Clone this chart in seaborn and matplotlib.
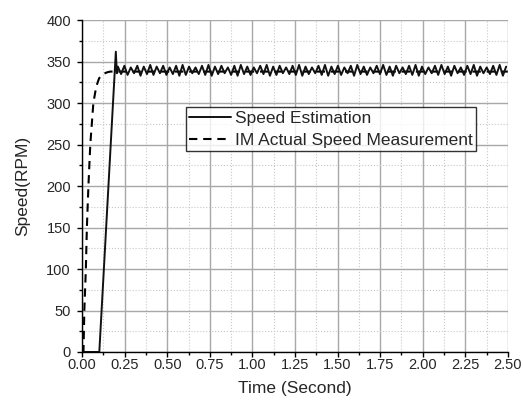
import numpy as np
import pandas as pd
import matplotlib
matplotlib.use("Agg")
import matplotlib.pyplot as plt
import seaborn as sns
from matplotlib.ticker import MultipleLocator

# speed estimation: ramp then ripple around ~339 rpm
est_time_start = [0.0, 0.101, 0.198, 0.204]
est_speed_start = [0.0, 0.0, 362.0, 336.0]
ripple_step = 0.019  # half period of the ripple (s)
ripple_speed = [
    344, 335, 345, 334, 343, 336, 345, 333, 344, 335, 346, 334, 344, 336, 345, 334,
    343, 335, 345, 333, 346, 334, 344, 336, 343, 335, 345, 334, 346, 333, 344, 335,
    345, 336, 343, 334, 345, 333, 346, 335, 344, 334, 343, 336, 345, 335, 346, 333,
    344, 334, 345, 336, 343, 335, 345, 334, 346, 333, 344, 335, 343, 336, 345, 334,
    346, 333, 344, 335, 345, 334, 343, 336, 345, 333, 346, 335, 344, 334, 343, 336,
    345, 335, 346, 334, 344, 333, 345, 336, 343, 335, 345, 334, 346, 333, 344, 335,
    343, 336, 345, 334, 346, 335, 344, 333, 345, 336, 343, 334, 345, 335, 346, 333,
    344, 336, 343, 335, 345, 334, 346, 333, 344,
]

# measured IM speed
meas_time = [0.0, 0.008, 0.013, 0.022, 0.028, 0.037, 0.048, 0.066, 0.083, 0.100,
             0.124, 0.145, 0.165, 0.20, 2.50]
meas_speed = [0, 0, 50, 100, 150, 200, 250, 300, 320, 330, 335, 337, 338, 338, 338]

ripple_time = 0.21 + ripple_step * np.arange(len(ripple_speed))
est_time = list(est_time_start) + list(ripple_time)
est_speed = list(est_speed_start) + list(ripple_speed)

df_est = pd.DataFrame({"t": est_time, "v": est_speed})
df_meas = pd.DataFrame({"t": meas_time, "v": meas_speed})

sns.set_style("white")
plt.rcParams["font.family"] = ["Liberation Sans", "DejaVu Sans"]

fig = plt.figure(figsize=(5.23, 4.03), dpi=100)
ax = fig.add_axes([0.157, 0.1266, 0.814, 0.8234])

sns.lineplot(data=df_meas, x="t", y="v", ax=ax, color="black", lw=1.5,
             sort=False, estimator=None, dashes=False, label="IM Actual Speed Measurement")
ax.lines[-1].set_dashes((4, 2.8))
sns.lineplot(data=df_est, x="t", y="v", ax=ax, color="#111111", lw=1.4,
             sort=False, estimator=None, label="Speed Estimation")

ax.set_xlim(0, 2.5)
ax.set_ylim(0, 400)
ax.xaxis.set_major_locator(MultipleLocator(0.25))
ax.xaxis.set_minor_locator(MultipleLocator(0.125))
ax.yaxis.set_major_locator(MultipleLocator(50))
ax.yaxis.set_minor_locator(MultipleLocator(25))
ax.set_xticklabels([f"{v:.2f}" for v in ax.get_xticks()])

ax.grid(which="major", color="#a8a8a8", lw=1.0, ls="-")
ax.grid(which="minor", color="#c8c8c8", lw=0.8, ls=":")
ax.set_axisbelow(True)

for s in ["top", "right"]:
    ax.spines[s].set_visible(False)
for s in ["left", "bottom"]:
    ax.spines[s].set_color("black")
    ax.spines[s].set_linewidth(1.0)

ax.tick_params(which="major", direction="out", length=3.5, width=1, color="black",
               labelsize=10.5, bottom=True, left=True)
ax.tick_params(which="minor", direction="out", length=2.5, width=1, color="black",
               bottom=True, left=True)
ax.tick_params(axis="x", which="major", pad=1)
ax.tick_params(axis="y", which="major", pad=4.5)

ax.set_xlabel("Time (Second)", fontsize=12.5, labelpad=6.5)
ax.set_ylabel("Speed(RPM)", fontsize=12.5, labelpad=12)

handles, labels = ax.get_legend_handles_labels()
leg = ax.legend(handles[::-1], labels[::-1], loc="upper left",
                bbox_to_anchor=(0.244, 0.738), fontsize=12.5, frameon=True,
                fancybox=False, edgecolor="black", handlelength=2.4,
                borderpad=0.2, labelspacing=0.4, handletextpad=0.2,
                borderaxespad=0)
leg.get_frame().set_linewidth(1.0)

fig.savefig("out.png", dpi=100)
